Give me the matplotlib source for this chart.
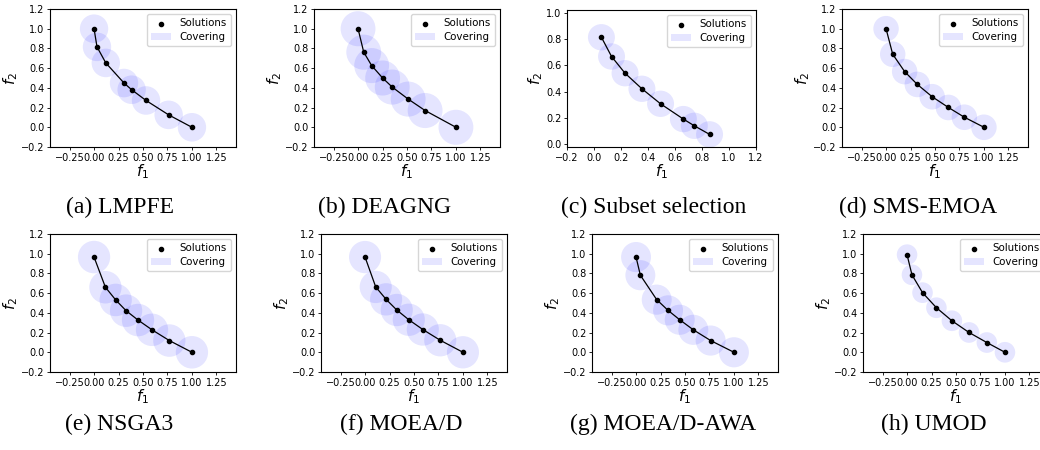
#!/usr/bin/python3

"""
Covering of the solution sets found by each method (8 small panels)
"""

import numpy as np
import matplotlib
matplotlib.use("Agg")
import matplotlib.pyplot as plt
from matplotlib.patches import Circle, Patch

# solution sets, one pair of lists per method
f1_lmpfe = [0.0, 0.03, 0.12, 0.306, 0.384, 0.531, 0.762, 1.0]
f2_lmpfe = [1.0, 0.816, 0.653, 0.449, 0.381, 0.272, 0.126, 0.0]

f1_deagng = [0.0, 0.058, 0.139, 0.251, 0.349, 0.512, 0.685, 1.0]
f2_deagng = [1.0, 0.762, 0.626, 0.500, 0.408, 0.286, 0.170, 0.0]

f1_subset = [0.055, 0.13, 0.23, 0.355, 0.493, 0.662, 0.743, 0.856]
f2_subset = [0.813, 0.667, 0.540, 0.422, 0.308, 0.192, 0.141, 0.076]

f1_smsemoa = [0.0, 0.068, 0.19, 0.319, 0.471, 0.637, 0.80, 1.0]
f2_smsemoa = [1.0, 0.741, 0.565, 0.435, 0.310, 0.201, 0.102, 0.0]

f1_nsga3 = [0.0, 0.116, 0.221, 0.327, 0.449, 0.592, 0.769, 1.0]
f2_nsga3 = [0.966, 0.660, 0.531, 0.422, 0.327, 0.228, 0.119, 0.0]

f1_moead = [0.0, 0.109, 0.215, 0.324, 0.447, 0.590, 0.768, 1.0]
f2_moead = [0.966, 0.663, 0.537, 0.429, 0.330, 0.231, 0.122, 0.0]

f1_moeadawa = [0.0, 0.044, 0.211, 0.327, 0.446, 0.585, 0.762, 1.0]
f2_moeadawa = [0.966, 0.782, 0.534, 0.425, 0.330, 0.228, 0.119, 0.0]

f1_umod = [0.0, 0.05, 0.158, 0.30, 0.458, 0.633, 0.815, 1.0]
f2_umod = [0.99, 0.786, 0.605, 0.452, 0.320, 0.201, 0.099, 0.0]

# covering radius of each method
cover_radius = [0.145, 0.178, 0.10, 0.13, 0.165, 0.164, 0.153, 0.105]

captions = ["(a) LMPFE", "(b) DEAGNG", "(c) Subset selection", "(d) SMS-EMOA",
            "(e) NSGA3", "(f) MOEA/D", "(g) MOEA/D-AWA", "(h) UMOD"]

W, H = 1040, 450

# axes boxes in pixels: left, top, width, height
boxes = [(50, 9, 186, 138), (314, 9, 186, 138), (567, 10, 189, 137), (842, 9, 186, 138),
         (50, 234, 186, 138), (321, 234, 186, 138), (592, 234, 186, 138), (863, 234, 186, 138)]
# caption centres in pixels
cap_pos = [(120, 207), (385, 207), (654, 207), (918, 207),
           (119, 424), (401, 424), (663, 424), (934, 424)]


def plotPanel(fig, box, f1, f2, r, subset=False):
    l, t, w, h = box
    ax = fig.add_axes([l / W, 1 - (t + h) / H, w / W, h / H])
    for x, y in zip(f1, f2):
        ax.add_patch(Circle((x, y), r, facecolor="blue", alpha=0.1, lw=0))
    ax.plot(f1, f2, color="black", lw=0.9)
    sol = ax.scatter(f1, f2, s=9, color="black", zorder=3, label="Solutions")
    cov = Patch(facecolor="blue", alpha=0.1, label="Covering")
    if subset:
        ax.set_xlim(-0.2, 1.2)
        ax.set_ylim(-0.02, 1.02)
        ax.set_xticks(np.arange(-0.2, 1.21, 0.2))
        ax.set_yticks(np.arange(0.0, 1.01, 0.2))
    else:
        ax.set_xlim(-0.45, 1.45)
        ax.set_ylim(-0.2, 1.2)
        ax.set_xticks(np.arange(-0.25, 1.26, 0.25))
        ax.set_yticks(np.arange(-0.2, 1.21, 0.2))
    ax.tick_params(labelsize=7, length=2.5, width=0.6, pad=1.5)
    for s in ax.spines.values():
        s.set_linewidth(0.8)
    ax.set_xlabel("$f_1$", fontsize=11, labelpad=0)
    ax.set_ylabel("$f_2$", fontsize=11, labelpad=1)
    ax.legend(handles=[sol, cov], loc="upper right", fontsize=7.4,
              handletextpad=0.8, borderpad=0.4, labelspacing=0.4)
    return ax


fig = plt.figure(figsize=(W / 100, H / 100), dpi=100)
plt.rcParams["mathtext.fontset"] = "dejavusans"

all_f1 = [f1_lmpfe, f1_deagng, f1_subset, f1_smsemoa, f1_nsga3, f1_moead, f1_moeadawa, f1_umod]
all_f2 = [f2_lmpfe, f2_deagng, f2_subset, f2_smsemoa, f2_nsga3, f2_moead, f2_moeadawa, f2_umod]

for i in range(8):
    plotPanel(fig, boxes[i], all_f1[i], all_f2[i], cover_radius[i], subset=(i == 2))
    cx, cy = cap_pos[i]
    fig.text(cx / W, 1 - cy / H, captions[i], ha="center", va="center",
             fontsize=17, family="Liberation Serif")

fig.savefig("out.png", dpi=100)
